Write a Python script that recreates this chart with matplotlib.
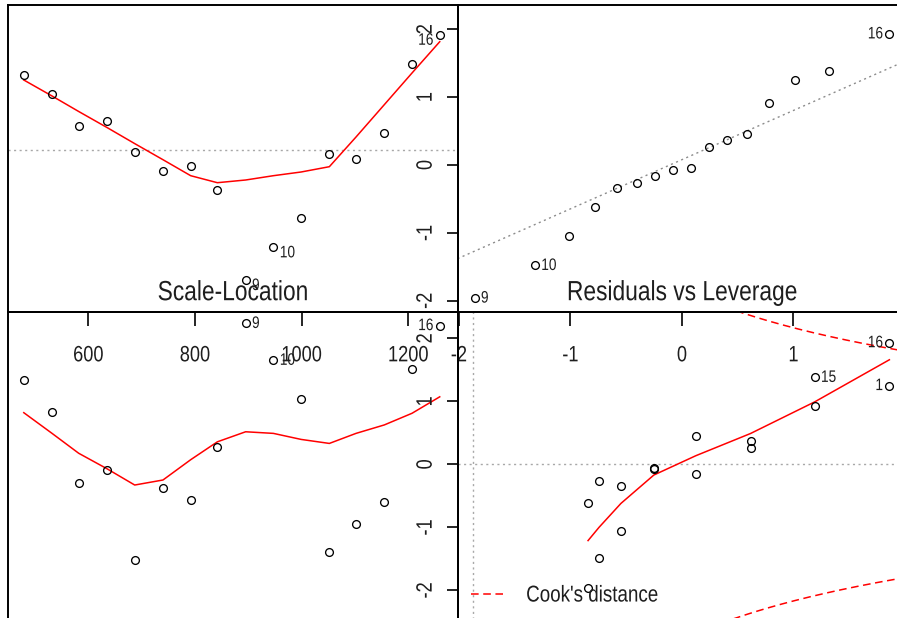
import numpy as np
import matplotlib
matplotlib.use("Agg")
import matplotlib.pyplot as plt
from matplotlib.lines import Line2D
from matplotlib.text import Text
from matplotlib.patheffects import AbstractPathEffect
from matplotlib.transforms import Affine2D

# ---- regression diagnostics for 16 observations ----
obs_id = np.arange(1, 17)
fitted = np.array([479, 532, 582, 635, 687, 740, 792, 842, 895, 947, 999, 1052,
                   1102, 1155, 1207, 1259])
residuals = np.array([75.3, 56.3, 23.7, 28.7, -2.3, -21.3, -16.0, -40.3, -130.0,
                      -97.3, -68.0, -4.0, -9.3, 16.7, 85.7, 115.3])
std_resid = np.array([1.25, 0.92, 0.37, 0.45, -0.05, -0.34, -0.27, -0.62, -1.96,
                      -1.48, -1.05, -0.07, -0.16, 0.26, 1.38, 1.93])
leverage = np.array([0.228, 0.187, 0.152, 0.122, 0.099, 0.081, 0.069, 0.063, 0.063,
                     0.069, 0.081, 0.099, 0.122, 0.152, 0.187, 0.228])
theor_quantiles = np.array([-1.86, -1.32, -1.01, -0.78, -0.58, -0.40, -0.24, -0.08,
                            0.08, 0.24, 0.40, 0.58, 0.78, 1.01, 1.32, 1.86])

# smoothed trend lines
smooth_resid = np.array([70, 54, 38.5, 22.5, 6.4, -9.7, -25.7, -32.7, -30, -25.7,
                         -22, -16.7, 13, 45.3, 77, 108.3])
smooth_scale = np.array([0.956, 0.853, 0.754, 0.677, 0.596, 0.621, 0.722, 0.811,
                         0.861, 0.853, 0.823, 0.803, 0.853, 0.895, 0.953, 1.035])
lev_levels = np.array([0.063, 0.069, 0.081, 0.099, 0.122, 0.152, 0.187, 0.228])
smooth_lev = np.array([-1.21, -1.00, -0.62, -0.17, 0.137, 0.49, 0.99, 1.66])

cook_level = 0.5
n_params = 2

fitted_ticks = [600, 800, 1000, 1200]
quantile_ticks = [-2, -1, 0, 1]
resid_ticks = [-2, -1, 0, 1, 2]

# ---- styling ----
plt.rcParams['font.family'] = ['Liberation Sans', 'DejaVu Sans']
TEXT = '#1e1e1e'
W, H = 897, 618
fig = plt.figure(figsize=(W / 100, H / 100), dpi=100, facecolor='white')


class Narrow(AbstractPathEffect):
    """Draw glyphs horizontally condensed about a chosen anchor."""

    def __init__(self, sx=0.82, anchor='center'):
        super().__init__()
        self.sx = sx
        self.anchor = anchor

    def draw_path(self, renderer, gc, tpath, affine, rgbFace=None):
        if len(tpath.vertices) == 0:
            renderer.draw_path(gc, tpath, affine, rgbFace)
            return
        ext = tpath.get_extents()
        cx = {'left': ext.x0, 'right': ext.x1}.get(self.anchor, 0.5 * (ext.x0 + ext.x1))
        squeeze = Affine2D().translate(-cx, 0).scale(self.sx, 1).translate(cx, 0)
        renderer.draw_path(gc, tpath, squeeze + affine, rgbFace)


def place(x0, y0, x1, y1):
    ax = fig.add_axes([x0 / W, 1 - y1 / H, (x1 - x0) / W, (y1 - y0) / H])
    ax.patch.set_visible(False)
    for s in ax.spines.values():
        s.set_linewidth(1.4)
        s.set_color('black')
    ax.set_xticks([])
    ax.set_yticks([])
    return ax


ax_tl = place(8, 5, 457.5, 312)
ax_tr = place(457.5, 5, 906, 312)
ax_bl = place(8, 312, 457.5, 622)
ax_br = place(457.5, 312, 906, 622)

pt_kw = dict(ls='none', marker='o', ms=5.6, mfc='none', mec='black', mew=0.95, zorder=3)
red_kw = dict(color='#ff0000', lw=1.1, zorder=2)
grey_dot = dict(color='#a8a8a8', lw=1.0, ls=(0, (1.5, 2.5)), zorder=1)
id_size = 12


def label_ids(ax, xs, ys, ids, right, left, dy=0.0):
    for x, y, i in zip(xs, ys, ids):
        if i in right:
            ax.annotate(str(i), (x, y), xytext=(4.5, dy), textcoords='offset points',
                        ha='left', va='center', fontsize=id_size, color=TEXT)
        elif i in left:
            ax.annotate(str(i), (x, y), xytext=(-4.5, dy), textcoords='offset points',
                        ha='right', va='center', fontsize=id_size, color=TEXT)


def x_axis(ax, ticks):
    ax.set_xticks(ticks)
    ax.set_xticklabels([str(t) for t in ticks])
    ax.tick_params(axis='x', direction='out', length=10, width=1.2, pad=14,
                   labelsize=16, labelcolor=TEXT)


def y_axis(ax, ticks):
    ax.set_yticks(ticks)
    ax.set_yticklabels([str(t) for t in ticks], rotation=90, va='center')
    ax.tick_params(axis='y', direction='out', length=8, width=1.2, pad=7,
                   labelsize=16, labelcolor=TEXT)


# Residuals vs Fitted
ax_tl.set_xlim(449.4, 1292.3)
ax_tl.set_ylim(-162, 145)
ax_tl.axhline(0, **grey_dot)
ax_tl.plot(fitted, smooth_resid, **red_kw)
ax_tl.plot(fitted, residuals, **pt_kw)
label_ids(ax_tl, fitted, residuals, obs_id, right={9, 10}, left={16}, dy=-4)
x_axis(ax_tl, fitted_ticks)

# Normal Q-Q
order = np.argsort(std_resid)
sorted_resid = std_resid[order]
ax_tr.set_xlim(-2.013, 2.009)
ax_tr.set_ylim(-2.165, 2.356)
q25, q75 = np.quantile(std_resid, [0.25, 0.75])
z75 = 0.6745
slope = (q75 - q25) / (2 * z75)
intercept = q75 - slope * z75
ax_tr.axline((0, intercept), slope=slope, color='#8c8c8c', lw=1.0, ls=(0, (1.5, 2.5)))
ax_tr.plot(theor_quantiles, sorted_resid, **pt_kw)
label_ids(ax_tr, theor_quantiles, sorted_resid, obs_id[order], right={9, 10}, left={16})
x_axis(ax_tr, quantile_ticks)
y_axis(ax_tr, resid_ticks)

# Scale-Location
scale_vals = np.sqrt(np.abs(std_resid))
ax_bl.set_xlim(449.4, 1292.3)
ax_bl.set_ylim(-0.0856, 1.457)
ax_bl.plot(fitted, smooth_scale, **red_kw)
ax_bl.plot(fitted, scale_vals, **pt_kw)
label_ids(ax_bl, fitted, scale_vals, obs_id, right={9, 10}, left={16})
ax_bl.set_title("Scale-Location", fontsize=20, color=TEXT, pad=8.5)

# Residuals vs Leverage
ax_br.set_xlim(-0.00849, 0.2371)
ax_br.set_ylim(-2.502, 2.418)
ax_br.axhline(0, **grey_dot)
ax_br.axvline(0, **grey_dot)
hh = np.linspace(0.001, 0.25, 400)
cook_r = np.sqrt(cook_level * n_params * (1 - hh) / hh)
cook_kw = dict(color='#ff0000', lw=1.1, ls=(0, (5, 3)))
ax_br.plot(hh, cook_r, **cook_kw)
ax_br.plot(hh, -cook_r, **cook_kw)
ax_br.plot(lev_levels, smooth_lev, **red_kw)
ax_br.plot(leverage, std_resid, **pt_kw)
label_ids(ax_br, leverage, std_resid, obs_id, right={15}, left={16, 1})
y_axis(ax_br, resid_ticks)
ax_br.set_title("Residuals vs Leverage", fontsize=20, color=TEXT, pad=8.5)
ax_br.legend(handles=[Line2D([], [], **cook_kw)], labels=["Cook's distance"],
             loc='center left', bbox_to_anchor=(0.03, 0.087), frameon=False,
             fontsize=16.5, handlelength=1.4, handletextpad=1.0, borderpad=0,
             borderaxespad=0, labelcolor=TEXT)

# condensed lettering for every text on the figure
fig.canvas.draw()
for t in fig.findobj(Text):
    if not t.get_text():
        continue
    if t.get_rotation() != 0:
        anchor = 'center'
    else:
        anchor = t.get_horizontalalignment()
    t.set_path_effects([Narrow(0.82, anchor)])

fig.savefig("out.png", dpi=100, facecolor='white')
